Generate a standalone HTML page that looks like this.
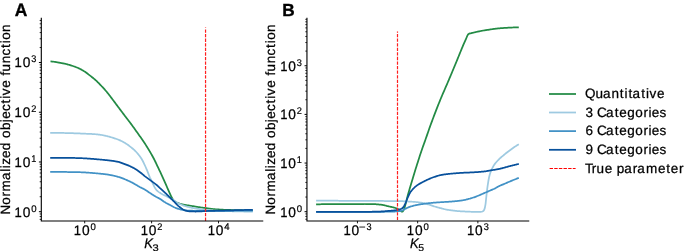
<!DOCTYPE html>
<html><head><meta charset="utf-8"><style>
html,body{margin:0;padding:0;background:#fff;width:685px;height:251px;overflow:hidden;}
svg{display:block;will-change:transform;}
*{-webkit-font-smoothing:antialiased;}
text{font-family:"Liberation Sans",sans-serif;text-rendering:geometricPrecision;}
</style></head><body>
<svg width="685" height="251" viewBox="0 0 685 251"><rect width="685" height="251" fill="#fff"/><polyline points="50.50,61.40 51.18,61.46 51.85,61.52 52.53,61.59 53.21,61.67 53.88,61.75 54.56,61.84 55.24,61.93 55.91,62.04 56.59,62.15 57.27,62.27 57.94,62.40 58.62,62.53 59.30,62.66 59.97,62.79 60.65,62.92 61.33,63.05 62.00,63.17 62.68,63.30 63.36,63.43 64.03,63.57 64.71,63.71 65.38,63.86 66.06,64.01 66.74,64.18 67.41,64.36 68.09,64.54 68.77,64.73 69.44,64.93 70.12,65.14 70.80,65.35 71.47,65.56 72.15,65.78 72.83,66.00 73.50,66.23 74.18,66.46 74.86,66.70 75.53,66.95 76.21,67.21 76.89,67.47 77.56,67.76 78.24,68.05 78.92,68.36 79.59,68.69 80.27,69.03 80.95,69.39 81.62,69.76 82.30,70.14 82.98,70.54 83.65,70.95 84.33,71.37 85.01,71.82 85.68,72.29 86.36,72.78 87.04,73.29 87.71,73.80 88.39,74.33 89.07,74.85 89.74,75.38 90.42,75.90 91.10,76.42 91.77,76.95 92.45,77.49 93.13,78.03 93.80,78.58 94.48,79.15 95.15,79.73 95.83,80.33 96.51,80.95 97.18,81.59 97.86,82.26 98.54,82.94 99.21,83.63 99.89,84.34 100.57,85.04 101.24,85.76 101.92,86.48 102.60,87.20 103.27,87.94 103.95,88.68 104.63,89.44 105.30,90.21 105.98,90.99 106.66,91.79 107.33,92.60 108.01,93.45 108.69,94.31 109.36,95.19 110.04,96.08 110.72,96.99 111.39,97.89 112.07,98.80 112.75,99.70 113.42,100.59 114.10,101.49 114.78,102.39 115.45,103.29 116.13,104.20 116.81,105.10 117.48,106.01 118.16,106.91 118.84,107.81 119.51,108.72 120.19,109.62 120.87,110.53 121.54,111.43 122.22,112.34 122.89,113.24 123.57,114.14 124.25,115.04 124.92,115.93 125.60,116.82 126.28,117.70 126.95,118.57 127.63,119.44 128.31,120.32 128.98,121.20 129.66,122.08 130.34,122.98 131.01,123.89 131.69,124.81 132.37,125.74 133.04,126.67 133.72,127.61 134.40,128.56 135.07,129.50 135.75,130.45 136.43,131.40 137.10,132.34 137.78,133.29 138.46,134.23 139.13,135.18 139.81,136.14 140.49,137.11 141.16,138.08 141.84,139.06 142.52,140.06 143.19,141.06 143.87,142.06 144.55,143.07 145.22,144.09 145.90,145.13 146.58,146.18 147.25,147.25 147.93,148.35 148.61,149.46 149.28,150.58 149.96,151.73 150.64,152.89 151.31,154.07 151.99,155.27 152.66,156.50 153.34,157.75 154.02,159.03 154.69,160.36 155.37,161.74 156.05,163.16 156.72,164.59 157.40,166.03 158.08,167.46 158.75,168.88 159.43,170.31 160.11,171.74 160.78,173.18 161.46,174.63 162.14,176.10 162.81,177.58 163.49,179.09 164.17,180.60 164.84,182.12 165.52,183.64 166.20,185.17 166.87,186.73 167.55,188.30 168.23,189.87 168.90,191.41 169.58,192.91 170.26,194.37 170.93,195.84 171.61,197.26 172.29,198.51 172.96,199.51 173.64,200.34 174.32,200.97 174.99,201.49 175.67,201.92 176.35,202.28 177.02,202.60 177.70,202.89 178.38,203.15 179.05,203.40 179.73,203.62 180.41,203.82 181.08,204.01 181.76,204.19 182.43,204.35 183.11,204.51 183.79,204.66 184.46,204.80 185.14,204.93 185.82,205.05 186.49,205.16 187.17,205.27 187.85,205.37 188.52,205.47 189.20,205.58 189.88,205.68 190.55,205.79 191.23,205.90 191.91,206.01 192.58,206.11 193.26,206.22 193.94,206.33 194.61,206.44 195.29,206.55 195.97,206.66 196.64,206.77 197.32,206.88 198.00,206.99 198.67,207.10 199.35,207.20 200.03,207.30 200.70,207.40 201.38,207.50 202.06,207.60 202.73,207.69 203.41,207.79 204.09,207.88 204.76,207.97 205.44,208.06 206.12,208.15 206.79,208.24 207.47,208.33 208.15,208.42 208.82,208.51 209.50,208.60 210.17,208.69 210.85,208.77 211.53,208.85 212.20,208.93 212.88,209.00 213.56,209.07 214.23,209.13 214.91,209.19 215.59,209.25 216.26,209.30 216.94,209.35 217.62,209.40 218.29,209.44 218.97,209.49 219.65,209.53 220.32,209.57 221.00,209.61 221.68,209.65 222.35,209.68 223.03,209.72 223.71,209.75 224.38,209.78 225.06,209.80 225.74,209.83 226.41,209.85 227.09,209.87 227.77,209.90 228.44,209.92 229.12,209.94 229.80,209.96 230.47,209.98 231.15,210.00 231.83,210.02 232.50,210.03 233.18,210.05 233.86,210.07 234.53,210.08 235.21,210.10 235.89,210.11 236.56,210.13 237.24,210.14 237.92,210.16 238.59,210.17 239.27,210.19 239.94,210.20 240.62,210.21 241.30,210.23 241.97,210.24 242.65,210.25 243.33,210.26 244.00,210.27 244.68,210.29 245.36,210.30 246.03,210.31 246.71,210.32 247.39,210.33 248.06,210.34 248.74,210.35 249.42,210.36 250.09,210.37 250.77,210.38 251.45,210.38 252.12,210.39 252.80,210.40" fill="none" stroke="#238b45" stroke-width="1.75" stroke-linejoin="round" stroke-linecap="butt"/><polyline points="50.20,132.80 50.88,132.80 51.56,132.81 52.23,132.82 52.91,132.82 53.59,132.83 54.27,132.84 54.94,132.84 55.62,132.85 56.30,132.86 56.98,132.87 57.65,132.88 58.33,132.89 59.01,132.90 59.69,132.91 60.36,132.92 61.04,132.93 61.72,132.95 62.40,132.96 63.07,132.97 63.75,132.98 64.43,133.00 65.11,133.01 65.78,133.03 66.46,133.05 67.14,133.06 67.82,133.08 68.49,133.10 69.17,133.12 69.85,133.14 70.53,133.16 71.21,133.18 71.88,133.20 72.56,133.22 73.24,133.24 73.92,133.26 74.59,133.29 75.27,133.31 75.95,133.33 76.63,133.36 77.30,133.38 77.98,133.41 78.66,133.43 79.34,133.46 80.01,133.49 80.69,133.51 81.37,133.54 82.05,133.57 82.72,133.60 83.40,133.63 84.08,133.66 84.76,133.69 85.43,133.72 86.11,133.75 86.79,133.78 87.47,133.81 88.15,133.83 88.82,133.86 89.50,133.89 90.18,133.92 90.86,133.96 91.53,133.99 92.21,134.02 92.89,134.06 93.57,134.10 94.24,134.15 94.92,134.19 95.60,134.25 96.28,134.31 96.95,134.38 97.63,134.45 98.31,134.53 98.99,134.62 99.66,134.71 100.34,134.80 101.02,134.90 101.70,135.01 102.37,135.13 103.05,135.25 103.73,135.39 104.41,135.53 105.08,135.68 105.76,135.83 106.44,135.99 107.12,136.15 107.80,136.32 108.47,136.50 109.15,136.68 109.83,136.87 110.51,137.07 111.18,137.27 111.86,137.48 112.54,137.69 113.22,137.90 113.89,138.11 114.57,138.33 115.25,138.56 115.93,138.79 116.60,139.02 117.28,139.27 117.96,139.52 118.64,139.79 119.31,140.07 119.99,140.37 120.67,140.67 121.35,141.00 122.02,141.33 122.70,141.68 123.38,142.04 124.06,142.42 124.74,142.80 125.41,143.21 126.09,143.64 126.77,144.10 127.45,144.57 128.12,145.07 128.80,145.57 129.48,146.09 130.16,146.61 130.83,147.14 131.51,147.67 132.19,148.22 132.87,148.78 133.54,149.36 134.22,149.97 134.90,150.60 135.58,151.27 136.25,151.98 136.93,152.73 137.61,153.51 138.29,154.33 138.96,155.19 139.64,156.08 140.32,157.01 141.00,158.01 141.67,159.06 142.35,160.21 143.03,161.49 143.71,162.86 144.39,164.29 145.06,165.75 145.74,167.26 146.42,168.82 147.10,170.44 147.77,172.09 148.45,173.84 149.13,175.69 149.81,177.39 150.48,178.76 151.16,179.98 151.84,181.29 152.52,182.78 153.19,184.29 153.87,185.74 154.55,187.08 155.23,188.32 155.90,189.30 156.58,190.10 157.26,190.78 157.94,191.37 158.61,191.90 159.29,192.38 159.97,192.82 160.65,193.26 161.33,193.67 162.00,194.06 162.68,194.43 163.36,194.78 164.04,195.10 164.71,195.41 165.39,195.71 166.07,196.03 166.75,196.38 167.42,196.74 168.10,197.11 168.78,197.48 169.46,197.84 170.13,198.20 170.81,198.55 171.49,198.92 172.17,199.30 172.84,199.72 173.52,200.18 174.20,200.68 174.88,201.18 175.55,201.68 176.23,202.14 176.91,202.55 177.59,202.91 178.26,203.26 178.94,203.59 179.62,203.91 180.30,204.22 180.98,204.52 181.65,204.80 182.33,205.07 183.01,205.32 183.69,205.57 184.36,205.80 185.04,206.01 185.72,206.22 186.40,206.42 187.07,206.61 187.75,206.80 188.43,206.98 189.11,207.15 189.78,207.31 190.46,207.47 191.14,207.63 191.82,207.78 192.49,207.92 193.17,208.06 193.85,208.19 194.53,208.32 195.20,208.44 195.88,208.55 196.56,208.67 197.24,208.78 197.92,208.89 198.59,208.99 199.27,209.09 199.95,209.19 200.63,209.28 201.30,209.37 201.98,209.46 202.66,209.54 203.34,209.62 204.01,209.70 204.69,209.77 205.37,209.84 206.05,209.90 206.72,209.97 207.40,210.03 208.08,210.10 208.76,210.15 209.43,210.21 210.11,210.27 210.79,210.32 211.47,210.37 212.14,210.42 212.82,210.47 213.50,210.51 214.18,210.55 214.85,210.59 215.53,210.63 216.21,210.66 216.89,210.70 217.57,210.73 218.24,210.77 218.92,210.80 219.60,210.83 220.28,210.86 220.95,210.89 221.63,210.92 222.31,210.95 222.99,210.97 223.66,211.00 224.34,211.03 225.02,211.05 225.70,211.07 226.37,211.10 227.05,211.12 227.73,211.14 228.41,211.16 229.08,211.18 229.76,211.19 230.44,211.21 231.12,211.23 231.79,211.24 232.47,211.26 233.15,211.28 233.83,211.29 234.51,211.31 235.18,211.33 235.86,211.34 236.54,211.36 237.22,211.37 237.89,211.39 238.57,211.40 239.25,211.42 239.93,211.43 240.60,211.44 241.28,211.46 241.96,211.47 242.64,211.48 243.31,211.49 243.99,211.51 244.67,211.52 245.35,211.53 246.02,211.54 246.70,211.55 247.38,211.55 248.06,211.56 248.73,211.57 249.41,211.58 250.09,211.58 250.77,211.59 251.44,211.59 252.12,211.60 252.80,211.60" fill="none" stroke="#9ecae1" stroke-width="1.75" stroke-linejoin="round" stroke-linecap="butt"/><polyline points="50.20,171.90 50.88,171.90 51.56,171.90 52.23,171.90 52.91,171.90 53.59,171.90 54.27,171.91 54.94,171.91 55.62,171.91 56.30,171.91 56.98,171.92 57.65,171.92 58.33,171.93 59.01,171.93 59.69,171.93 60.36,171.94 61.04,171.94 61.72,171.95 62.40,171.95 63.07,171.96 63.75,171.97 64.43,171.97 65.11,171.98 65.78,171.99 66.46,171.99 67.14,172.00 67.82,172.01 68.49,172.02 69.17,172.02 69.85,172.03 70.53,172.04 71.21,172.05 71.88,172.06 72.56,172.07 73.24,172.08 73.92,172.08 74.59,172.09 75.27,172.10 75.95,172.12 76.63,172.13 77.30,172.14 77.98,172.16 78.66,172.18 79.34,172.20 80.01,172.23 80.69,172.25 81.37,172.28 82.05,172.31 82.72,172.34 83.40,172.38 84.08,172.41 84.76,172.45 85.43,172.49 86.11,172.53 86.79,172.57 87.47,172.61 88.15,172.66 88.82,172.70 89.50,172.75 90.18,172.80 90.86,172.85 91.53,172.90 92.21,172.96 92.89,173.01 93.57,173.07 94.24,173.13 94.92,173.19 95.60,173.25 96.28,173.31 96.95,173.37 97.63,173.44 98.31,173.50 98.99,173.57 99.66,173.64 100.34,173.70 101.02,173.77 101.70,173.84 102.37,173.92 103.05,173.99 103.73,174.06 104.41,174.13 105.08,174.21 105.76,174.29 106.44,174.38 107.12,174.47 107.80,174.57 108.47,174.68 109.15,174.80 109.83,174.92 110.51,175.05 111.18,175.18 111.86,175.32 112.54,175.47 113.22,175.61 113.89,175.77 114.57,175.93 115.25,176.09 115.93,176.26 116.60,176.43 117.28,176.61 117.96,176.79 118.64,176.98 119.31,177.18 119.99,177.39 120.67,177.62 121.35,177.86 122.02,178.10 122.70,178.36 123.38,178.63 124.06,178.90 124.74,179.19 125.41,179.48 126.09,179.78 126.77,180.08 127.45,180.39 128.12,180.70 128.80,181.01 129.48,181.33 130.16,181.65 130.83,181.97 131.51,182.30 132.19,182.64 132.87,183.00 133.54,183.38 134.22,183.76 134.90,184.15 135.58,184.55 136.25,184.95 136.93,185.35 137.61,185.75 138.29,186.14 138.96,186.53 139.64,186.91 140.32,187.27 141.00,187.62 141.67,187.96 142.35,188.30 143.03,188.64 143.71,188.99 144.39,189.35 145.06,189.74 145.74,190.15 146.42,190.58 147.10,191.03 147.77,191.49 148.45,191.96 149.13,192.42 149.81,192.87 150.48,193.32 151.16,193.76 151.84,194.21 152.52,194.65 153.19,195.09 153.87,195.52 154.55,195.93 155.23,196.33 155.90,196.71 156.58,197.07 157.26,197.42 157.94,197.76 158.61,198.12 159.29,198.49 159.97,198.88 160.65,199.31 161.33,199.77 162.00,200.24 162.68,200.73 163.36,201.21 164.04,201.68 164.71,202.12 165.39,202.53 166.07,202.92 166.75,203.29 167.42,203.65 168.10,204.01 168.78,204.36 169.46,204.71 170.13,205.07 170.81,205.44 171.49,205.82 172.17,206.19 172.84,206.56 173.52,206.91 174.20,207.25 174.88,207.55 175.55,207.82 176.23,208.09 176.91,208.34 177.59,208.58 178.26,208.80 178.94,209.01 179.62,209.20 180.30,209.37 180.98,209.54 181.65,209.70 182.33,209.85 183.01,209.99 183.69,210.11 184.36,210.22 185.04,210.30 185.72,210.38 186.40,210.45 187.07,210.52 187.75,210.58 188.43,210.63 189.11,210.67 189.78,210.69 190.46,210.71 191.14,210.72 191.82,210.73 192.49,210.74 193.17,210.75 193.85,210.76 194.53,210.77 195.20,210.78 195.88,210.78 196.56,210.79 197.24,210.79 197.92,210.80 198.59,210.80 199.27,210.80 199.95,210.80 200.63,210.80 201.30,210.80 201.98,210.80 202.66,210.80 203.34,210.80 204.01,210.80 204.69,210.80 205.37,210.80 206.05,210.80 206.72,210.80 207.40,210.80 208.08,210.80 208.76,210.80 209.43,210.80 210.11,210.80 210.79,210.80 211.47,210.80 212.14,210.80 212.82,210.80 213.50,210.80 214.18,210.80 214.85,210.80 215.53,210.80 216.21,210.80 216.89,210.80 217.57,210.80 218.24,210.80 218.92,210.80 219.60,210.80 220.28,210.80 220.95,210.79 221.63,210.79 222.31,210.79 222.99,210.79 223.66,210.79 224.34,210.79 225.02,210.78 225.70,210.78 226.37,210.78 227.05,210.78 227.73,210.77 228.41,210.77 229.08,210.77 229.76,210.76 230.44,210.76 231.12,210.76 231.79,210.75 232.47,210.75 233.15,210.75 233.83,210.74 234.51,210.74 235.18,210.74 235.86,210.73 236.54,210.73 237.22,210.72 237.89,210.72 238.57,210.71 239.25,210.71 239.93,210.70 240.60,210.70 241.28,210.69 241.96,210.69 242.64,210.68 243.31,210.68 243.99,210.67 244.67,210.67 245.35,210.66 246.02,210.66 246.70,210.65 247.38,210.65 248.06,210.64 248.73,210.64 249.41,210.63 250.09,210.62 250.77,210.62 251.44,210.61 252.12,210.61 252.80,210.60" fill="none" stroke="#4292c6" stroke-width="1.75" stroke-linejoin="round" stroke-linecap="butt"/><polyline points="50.20,157.80 50.88,157.80 51.56,157.80 52.23,157.80 52.91,157.80 53.59,157.80 54.27,157.81 54.94,157.81 55.62,157.81 56.30,157.81 56.98,157.82 57.65,157.82 58.33,157.83 59.01,157.83 59.69,157.83 60.36,157.84 61.04,157.84 61.72,157.85 62.40,157.85 63.07,157.86 63.75,157.87 64.43,157.87 65.11,157.88 65.78,157.89 66.46,157.89 67.14,157.90 67.82,157.91 68.49,157.92 69.17,157.92 69.85,157.93 70.53,157.94 71.21,157.95 71.88,157.96 72.56,157.97 73.24,157.98 73.92,157.98 74.59,157.99 75.27,158.00 75.95,158.02 76.63,158.03 77.30,158.05 77.98,158.06 78.66,158.08 79.34,158.11 80.01,158.13 80.69,158.16 81.37,158.19 82.05,158.22 82.72,158.25 83.40,158.28 84.08,158.32 84.76,158.36 85.43,158.40 86.11,158.44 86.79,158.48 87.47,158.52 88.15,158.57 88.82,158.61 89.50,158.66 90.18,158.71 90.86,158.76 91.53,158.81 92.21,158.87 92.89,158.92 93.57,158.97 94.24,159.03 94.92,159.09 95.60,159.14 96.28,159.20 96.95,159.26 97.63,159.32 98.31,159.38 98.99,159.44 99.66,159.50 100.34,159.57 101.02,159.63 101.70,159.69 102.37,159.75 103.05,159.82 103.73,159.88 104.41,159.94 105.08,160.01 105.76,160.07 106.44,160.14 107.12,160.21 107.80,160.28 108.47,160.35 109.15,160.43 109.83,160.51 110.51,160.59 111.18,160.68 111.86,160.77 112.54,160.86 113.22,160.96 113.89,161.06 114.57,161.17 115.25,161.28 115.93,161.40 116.60,161.53 117.28,161.66 117.96,161.79 118.64,161.95 119.31,162.13 119.99,162.34 120.67,162.57 121.35,162.81 122.02,163.06 122.70,163.32 123.38,163.57 124.06,163.82 124.74,164.07 125.41,164.32 126.09,164.58 126.77,164.84 127.45,165.11 128.12,165.38 128.80,165.67 129.48,165.96 130.16,166.27 130.83,166.59 131.51,166.92 132.19,167.26 132.87,167.61 133.54,167.98 134.22,168.35 134.90,168.74 135.58,169.14 136.25,169.56 136.93,169.99 137.61,170.45 138.29,170.93 138.96,171.43 139.64,171.93 140.32,172.44 141.00,172.98 141.67,173.54 142.35,174.11 143.03,174.68 143.71,175.25 144.39,175.81 145.06,176.35 145.74,176.87 146.42,177.39 147.10,177.90 147.77,178.41 148.45,178.91 149.13,179.41 149.81,179.91 150.48,180.41 151.16,180.92 151.84,181.42 152.52,181.91 153.19,182.40 153.87,182.89 154.55,183.38 155.23,183.89 155.90,184.41 156.58,184.95 157.26,185.52 157.94,186.14 158.61,186.78 159.29,187.44 159.97,188.10 160.65,188.73 161.33,189.35 162.00,189.96 162.68,190.57 163.36,191.19 164.04,191.80 164.71,192.43 165.39,193.07 166.07,193.72 166.75,194.38 167.42,195.05 168.10,195.72 168.78,196.38 169.46,197.04 170.13,197.70 170.81,198.36 171.49,199.02 172.17,199.68 172.84,200.35 173.52,201.02 174.20,201.71 174.88,202.42 175.55,203.15 176.23,203.87 176.91,204.57 177.59,205.23 178.26,205.83 178.94,206.41 179.62,206.96 180.30,207.49 180.98,208.00 181.65,208.47 182.33,208.92 183.01,209.37 183.69,209.79 184.36,210.15 185.04,210.41 185.72,210.61 186.40,210.80 187.07,210.97 187.75,211.12 188.43,211.24 189.11,211.33 189.78,211.39 190.46,211.42 191.14,211.44 191.82,211.46 192.49,211.47 193.17,211.49 193.85,211.49 194.53,211.50 195.20,211.50 195.88,211.50 196.56,211.49 197.24,211.47 197.92,211.46 198.59,211.44 199.27,211.42 199.95,211.40 200.63,211.38 201.30,211.34 201.98,211.29 202.66,211.25 203.34,211.20 204.01,211.15 204.69,211.11 205.37,211.08 206.05,211.06 206.72,211.03 207.40,211.00 208.08,210.98 208.76,210.95 209.43,210.93 210.11,210.91 210.79,210.89 211.47,210.87 212.14,210.84 212.82,210.82 213.50,210.81 214.18,210.79 214.85,210.77 215.53,210.75 216.21,210.73 216.89,210.71 217.57,210.70 218.24,210.68 218.92,210.66 219.60,210.64 220.28,210.63 220.95,210.61 221.63,210.59 222.31,210.57 222.99,210.56 223.66,210.54 224.34,210.52 225.02,210.50 225.70,210.48 226.37,210.46 227.05,210.44 227.73,210.42 228.41,210.41 229.08,210.39 229.76,210.37 230.44,210.35 231.12,210.33 231.79,210.31 232.47,210.29 233.15,210.28 233.83,210.26 234.51,210.24 235.18,210.22 235.86,210.21 236.54,210.19 237.22,210.17 237.89,210.15 238.57,210.14 239.25,210.12 239.93,210.10 240.60,210.09 241.28,210.07 241.96,210.05 242.64,210.04 243.31,210.02 243.99,210.00 244.67,209.99 245.35,209.97 246.02,209.95 246.70,209.94 247.38,209.92 248.06,209.91 248.73,209.89 249.41,209.88 250.09,209.86 250.77,209.85 251.44,209.83 252.12,209.81 252.80,209.80" fill="none" stroke="#08519c" stroke-width="1.75" stroke-linejoin="round" stroke-linecap="butt"/><polyline points="316.10,204.30 316.78,204.29 317.46,204.29 318.13,204.28 318.81,204.27 319.49,204.26 320.17,204.26 320.85,204.25 321.52,204.24 322.20,204.24 322.88,204.23 323.56,204.22 324.24,204.22 324.91,204.21 325.59,204.20 326.27,204.20 326.95,204.19 327.62,204.19 328.30,204.18 328.98,204.17 329.66,204.17 330.34,204.16 331.01,204.16 331.69,204.15 332.37,204.15 333.05,204.14 333.73,204.14 334.40,204.13 335.08,204.13 335.76,204.12 336.44,204.12 337.12,204.12 337.79,204.11 338.47,204.11 339.15,204.10 339.83,204.10 340.51,204.10 341.18,204.09 341.86,204.09 342.54,204.09 343.22,204.08 343.89,204.08 344.57,204.08 345.25,204.07 345.93,204.07 346.61,204.07 347.28,204.06 347.96,204.06 348.64,204.06 349.32,204.06 350.00,204.05 350.67,204.05 351.35,204.05 352.03,204.04 352.71,204.04 353.39,204.04 354.06,204.04 354.74,204.03 355.42,204.03 356.10,204.03 356.78,204.03 357.45,204.02 358.13,204.02 358.81,204.02 359.49,204.02 360.17,204.01 360.84,204.01 361.52,204.01 362.20,204.01 362.88,204.01 363.55,204.01 364.23,204.01 364.91,204.00 365.59,204.00 366.27,204.00 366.94,204.00 367.62,204.00 368.30,204.00 368.98,204.00 369.66,204.00 370.33,204.00 371.01,204.01 371.69,204.02 372.37,204.04 373.05,204.07 373.72,204.10 374.40,204.14 375.08,204.18 375.76,204.23 376.44,204.28 377.11,204.34 377.79,204.39 378.47,204.46 379.15,204.52 379.83,204.59 380.50,204.66 381.18,204.73 381.86,204.81 382.54,204.90 383.21,205.03 383.89,205.17 384.57,205.34 385.25,205.51 385.93,205.69 386.60,205.88 387.28,206.05 387.96,206.21 388.64,206.36 389.32,206.51 389.99,206.65 390.67,206.79 391.35,206.93 392.03,207.07 392.71,207.23 393.38,207.40 394.06,207.58 394.74,207.78 395.42,208.01 396.10,208.27 396.77,208.56 397.45,208.87 398.13,209.22 398.81,209.59 399.48,210.02 400.16,210.54 400.84,211.03 401.52,211.52 402.20,211.57 402.87,211.36 403.55,210.12 404.23,208.59 404.91,206.63 405.59,204.11 406.26,201.45 406.94,198.63 407.62,195.97 408.30,193.52 408.98,191.16 409.65,188.85 410.33,186.55 411.01,184.28 411.69,182.03 412.37,179.78 413.04,177.51 413.72,175.23 414.40,172.98 415.08,170.78 415.76,168.61 416.43,166.47 417.11,164.33 417.79,162.18 418.47,160.03 419.14,157.89 419.82,155.77 420.50,153.70 421.18,151.68 421.86,149.71 422.53,147.79 423.21,145.89 423.89,144.01 424.57,142.12 425.25,140.22 425.92,138.29 426.60,136.34 427.28,134.38 427.96,132.42 428.64,130.46 429.31,128.53 429.99,126.63 430.67,124.76 431.35,122.92 432.03,121.08 432.70,119.26 433.38,117.45 434.06,115.66 434.74,113.87 435.42,112.11 436.09,110.35 436.77,108.61 437.45,106.88 438.13,105.17 438.80,103.48 439.48,101.80 440.16,100.14 440.84,98.50 441.52,96.88 442.19,95.28 442.87,93.70 443.55,92.12 444.23,90.56 444.91,89.00 445.58,87.44 446.26,85.88 446.94,84.31 447.62,82.74 448.30,81.16 448.97,79.56 449.65,77.96 450.33,76.35 451.01,74.74 451.69,73.13 452.36,71.52 453.04,69.90 453.72,68.28 454.40,66.65 455.07,65.02 455.75,63.39 456.43,61.74 457.11,60.08 457.79,58.41 458.46,56.74 459.14,55.06 459.82,53.39 460.50,51.72 461.18,50.07 461.85,48.43 462.53,46.81 463.21,45.21 463.89,43.65 464.57,42.11 465.24,40.60 465.92,39.08 466.60,37.48 467.28,35.92 467.96,34.67 468.63,33.95 469.31,33.66 469.99,33.45 470.67,33.29 471.35,33.14 472.02,32.97 472.70,32.81 473.38,32.64 474.06,32.48 474.73,32.32 475.41,32.16 476.09,32.00 476.77,31.85 477.45,31.70 478.12,31.56 478.80,31.41 479.48,31.27 480.16,31.14 480.84,31.00 481.51,30.87 482.19,30.74 482.87,30.62 483.55,30.51 484.23,30.40 484.90,30.29 485.58,30.19 486.26,30.09 486.94,29.99 487.62,29.89 488.29,29.79 488.97,29.69 489.65,29.58 490.33,29.48 491.01,29.37 491.68,29.26 492.36,29.16 493.04,29.05 493.72,28.96 494.39,28.86 495.07,28.78 495.75,28.70 496.43,28.62 497.11,28.55 497.78,28.48 498.46,28.41 499.14,28.34 499.82,28.28 500.50,28.22 501.17,28.17 501.85,28.12 502.53,28.07 503.21,28.02 503.89,27.98 504.56,27.93 505.24,27.89 505.92,27.85 506.60,27.81 507.28,27.77 507.95,27.74 508.63,27.70 509.31,27.66 509.99,27.63 510.66,27.59 511.34,27.56 512.02,27.53 512.70,27.50 513.38,27.48 514.05,27.45 514.73,27.43 515.41,27.40 516.09,27.38 516.77,27.36 517.44,27.34 518.12,27.32 518.80,27.30" fill="none" stroke="#238b45" stroke-width="1.75" stroke-linejoin="round" stroke-linecap="butt"/><polyline points="316.10,200.70 316.78,200.70 317.46,200.70 318.13,200.70 318.81,200.70 319.49,200.70 320.17,200.70 320.85,200.71 321.52,200.71 322.20,200.71 322.88,200.71 323.56,200.71 324.24,200.71 324.91,200.71 325.59,200.71 326.27,200.71 326.95,200.72 327.62,200.72 328.30,200.72 328.98,200.72 329.66,200.72 330.34,200.72 331.01,200.73 331.69,200.73 332.37,200.73 333.05,200.73 333.73,200.73 334.40,200.73 335.08,200.74 335.76,200.74 336.44,200.74 337.12,200.74 337.79,200.74 338.47,200.75 339.15,200.75 339.83,200.75 340.51,200.75 341.18,200.75 341.86,200.76 342.54,200.76 343.22,200.76 343.89,200.76 344.57,200.77 345.25,200.77 345.93,200.77 346.61,200.77 347.28,200.78 347.96,200.78 348.64,200.78 349.32,200.78 350.00,200.79 350.67,200.79 351.35,200.79 352.03,200.80 352.71,200.80 353.39,200.80 354.06,200.81 354.74,200.81 355.42,200.81 356.10,200.82 356.78,200.82 357.45,200.83 358.13,200.83 358.81,200.83 359.49,200.84 360.17,200.84 360.84,200.84 361.52,200.85 362.20,200.85 362.88,200.86 363.55,200.86 364.23,200.86 364.91,200.87 365.59,200.87 366.27,200.88 366.94,200.88 367.62,200.89 368.30,200.89 368.98,200.89 369.66,200.90 370.33,200.90 371.01,200.91 371.69,200.91 372.37,200.91 373.05,200.92 373.72,200.92 374.40,200.93 375.08,200.93 375.76,200.94 376.44,200.94 377.11,200.95 377.79,200.95 378.47,200.96 379.15,200.96 379.83,200.97 380.50,200.97 381.18,200.98 381.86,200.98 382.54,200.99 383.21,200.99 383.89,201.00 384.57,201.00 385.25,201.01 385.93,201.01 386.60,201.02 387.28,201.02 387.96,201.03 388.64,201.04 389.32,201.04 389.99,201.05 390.67,201.06 391.35,201.06 392.03,201.07 392.71,201.08 393.38,201.08 394.06,201.09 394.74,201.10 395.42,201.10 396.10,201.11 396.77,201.12 397.45,201.13 398.13,201.14 398.81,201.15 399.48,201.16 400.16,201.17 400.84,201.18 401.52,201.19 402.20,201.21 402.87,201.23 403.55,201.26 404.23,201.29 404.91,201.33 405.59,201.36 406.26,201.40 406.94,201.44 407.62,201.48 408.30,201.52 408.98,201.55 409.65,201.59 410.33,201.63 411.01,201.67 411.69,201.71 412.37,201.75 413.04,201.79 413.72,201.84 414.40,201.89 415.08,201.95 415.76,202.00 416.43,202.07 417.11,202.14 417.79,202.23 418.47,202.31 419.14,202.41 419.82,202.51 420.50,202.62 421.18,202.73 421.86,202.85 422.53,202.97 423.21,203.10 423.89,203.24 424.57,203.39 425.25,203.56 425.92,203.73 426.60,203.91 427.28,204.10 427.96,204.29 428.64,204.49 429.31,204.69 429.99,204.89 430.67,205.10 431.35,205.34 432.03,205.58 432.70,205.82 433.38,206.06 434.06,206.30 434.74,206.52 435.42,206.73 436.09,206.93 436.77,207.12 437.45,207.31 438.13,207.50 438.80,207.68 439.48,207.86 440.16,208.04 440.84,208.22 441.52,208.41 442.19,208.59 442.87,208.77 443.55,208.95 444.23,209.12 444.91,209.27 445.58,209.42 446.26,209.55 446.94,209.67 447.62,209.78 448.30,209.89 448.97,210.00 449.65,210.09 450.33,210.19 451.01,210.28 451.69,210.37 452.36,210.46 453.04,210.55 453.72,210.64 454.40,210.72 455.07,210.80 455.75,210.88 456.43,210.95 457.11,211.01 457.79,211.07 458.46,211.12 459.14,211.17 459.82,211.22 460.50,211.27 461.18,211.31 461.85,211.35 462.53,211.39 463.21,211.42 463.89,211.45 464.57,211.49 465.24,211.52 465.92,211.56 466.60,211.59 467.28,211.62 467.96,211.65 468.63,211.68 469.31,211.71 469.99,211.73 470.67,211.75 471.35,211.77 472.02,211.78 472.70,211.79 473.38,211.80 474.06,211.80 474.73,211.80 475.41,211.80 476.09,211.80 476.77,211.80 477.45,211.80 478.12,211.80 478.80,211.80 479.48,211.80 480.16,211.80 480.84,211.80 481.51,211.75 482.19,211.55 482.87,211.28 483.55,210.77 484.23,209.74 484.90,207.64 485.58,203.82 486.26,197.44 486.94,191.02 487.62,185.89 488.29,181.53 488.97,177.78 489.65,175.01 490.33,172.78 491.01,170.96 491.68,169.44 492.36,168.08 493.04,166.80 493.72,165.62 494.39,164.55 495.07,163.62 495.75,162.76 496.43,161.97 497.11,161.22 497.78,160.49 498.46,159.78 499.14,159.10 499.82,158.45 500.50,157.83 501.17,157.24 501.85,156.68 502.53,156.12 503.21,155.56 503.89,154.99 504.56,154.41 505.24,153.83 505.92,153.27 506.60,152.72 507.28,152.19 507.95,151.69 508.63,151.20 509.31,150.72 509.99,150.25 510.66,149.77 511.34,149.28 512.02,148.78 512.70,148.28 513.38,147.79 514.05,147.31 514.73,146.84 515.41,146.39 516.09,145.96 516.77,145.53 517.44,145.11 518.12,144.70 518.80,144.30" fill="none" stroke="#9ecae1" stroke-width="1.75" stroke-linejoin="round" stroke-linecap="butt"/><polyline points="316.10,211.90 316.78,211.90 317.46,211.90 318.13,211.90 318.81,211.90 319.49,211.90 320.17,211.90 320.85,211.90 321.52,211.90 322.20,211.90 322.88,211.90 323.56,211.90 324.24,211.90 324.91,211.90 325.59,211.90 326.27,211.90 326.95,211.90 327.62,211.90 328.30,211.90 328.98,211.90 329.66,211.90 330.34,211.90 331.01,211.90 331.69,211.90 332.37,211.90 333.05,211.90 333.73,211.90 334.40,211.90 335.08,211.90 335.76,211.90 336.44,211.90 337.12,211.90 337.79,211.90 338.47,211.90 339.15,211.90 339.83,211.90 340.51,211.90 341.18,211.90 341.86,211.90 342.54,211.90 343.22,211.90 343.89,211.90 344.57,211.90 345.25,211.90 345.93,211.90 346.61,211.90 347.28,211.90 347.96,211.90 348.64,211.90 349.32,211.89 350.00,211.89 350.67,211.89 351.35,211.89 352.03,211.89 352.71,211.89 353.39,211.89 354.06,211.89 354.74,211.89 355.42,211.89 356.10,211.88 356.78,211.88 357.45,211.88 358.13,211.88 358.81,211.88 359.49,211.88 360.17,211.87 360.84,211.87 361.52,211.87 362.20,211.87 362.88,211.87 363.55,211.87 364.23,211.86 364.91,211.86 365.59,211.86 366.27,211.86 366.94,211.85 367.62,211.85 368.30,211.85 368.98,211.85 369.66,211.85 370.33,211.84 371.01,211.84 371.69,211.84 372.37,211.83 373.05,211.83 373.72,211.83 374.40,211.83 375.08,211.82 375.76,211.82 376.44,211.82 377.11,211.81 377.79,211.81 378.47,211.81 379.15,211.80 379.83,211.80 380.50,211.80 381.18,211.79 381.86,211.79 382.54,211.78 383.21,211.78 383.89,211.77 384.57,211.76 385.25,211.75 385.93,211.74 386.60,211.73 387.28,211.72 387.96,211.70 388.64,211.69 389.32,211.67 389.99,211.66 390.67,211.64 391.35,211.62 392.03,211.60 392.71,211.58 393.38,211.56 394.06,211.53 394.74,211.51 395.42,211.48 396.10,211.44 396.77,211.39 397.45,211.32 398.13,211.24 398.81,211.15 399.48,211.05 400.16,210.93 400.84,210.80 401.52,210.66 402.20,210.48 402.87,210.19 403.55,209.82 404.23,209.42 404.91,209.05 405.59,208.71 406.26,208.36 406.94,208.02 407.62,207.70 408.30,207.40 408.98,207.14 409.65,206.89 410.33,206.66 411.01,206.44 411.69,206.23 412.37,206.04 413.04,205.85 413.72,205.67 414.40,205.50 415.08,205.34 415.76,205.19 416.43,205.05 417.11,204.91 417.79,204.79 418.47,204.66 419.14,204.55 419.82,204.44 420.50,204.33 421.18,204.23 421.86,204.12 422.53,204.02 423.21,203.93 423.89,203.83 424.57,203.73 425.25,203.64 425.92,203.55 426.60,203.46 427.28,203.38 427.96,203.30 428.64,203.22 429.31,203.14 429.99,203.07 430.67,203.00 431.35,202.93 432.03,202.86 432.70,202.80 433.38,202.74 434.06,202.68 434.74,202.62 435.42,202.57 436.09,202.52 436.77,202.47 437.45,202.43 438.13,202.38 438.80,202.34 439.48,202.30 440.16,202.25 440.84,202.21 441.52,202.17 442.19,202.12 442.87,202.08 443.55,202.04 444.23,202.00 444.91,201.96 445.58,201.92 446.26,201.88 446.94,201.84 447.62,201.80 448.30,201.76 448.97,201.71 449.65,201.67 450.33,201.62 451.01,201.57 451.69,201.52 452.36,201.46 453.04,201.41 453.72,201.35 454.40,201.29 455.07,201.23 455.75,201.16 456.43,201.10 457.11,201.03 457.79,200.95 458.46,200.88 459.14,200.80 459.82,200.72 460.50,200.63 461.18,200.54 461.85,200.44 462.53,200.34 463.21,200.23 463.89,200.10 464.57,199.96 465.24,199.80 465.92,199.64 466.60,199.46 467.28,199.29 467.96,199.11 468.63,198.93 469.31,198.75 469.99,198.57 470.67,198.37 471.35,198.17 472.02,197.97 472.70,197.76 473.38,197.54 474.06,197.31 474.73,197.08 475.41,196.83 476.09,196.57 476.77,196.30 477.45,196.03 478.12,195.76 478.80,195.48 479.48,195.20 480.16,194.91 480.84,194.62 481.51,194.32 482.19,194.02 482.87,193.71 483.55,193.41 484.23,193.11 484.90,192.81 485.58,192.52 486.26,192.22 486.94,191.93 487.62,191.64 488.29,191.34 488.97,191.05 489.65,190.75 490.33,190.46 491.01,190.17 491.68,189.88 492.36,189.60 493.04,189.31 493.72,189.01 494.39,188.69 495.07,188.36 495.75,188.00 496.43,187.61 497.11,187.20 497.78,186.80 498.46,186.42 499.14,186.08 499.82,185.77 500.50,185.46 501.17,185.18 501.85,184.89 502.53,184.62 503.21,184.34 503.89,184.07 504.56,183.79 505.24,183.50 505.92,183.20 506.60,182.91 507.28,182.61 507.95,182.31 508.63,182.01 509.31,181.72 509.99,181.43 510.66,181.14 511.34,180.86 512.02,180.58 512.70,180.30 513.38,180.02 514.05,179.75 514.73,179.48 515.41,179.21 516.09,178.94 516.77,178.68 517.44,178.42 518.12,178.16 518.80,177.90" fill="none" stroke="#4292c6" stroke-width="1.75" stroke-linejoin="round" stroke-linecap="butt"/><polyline points="316.10,211.90 316.78,211.90 317.46,211.90 318.13,211.90 318.81,211.90 319.49,211.90 320.17,211.90 320.85,211.90 321.52,211.90 322.20,211.90 322.88,211.90 323.56,211.90 324.24,211.90 324.91,211.90 325.59,211.90 326.27,211.90 326.95,211.90 327.62,211.90 328.30,211.90 328.98,211.90 329.66,211.90 330.34,211.90 331.01,211.90 331.69,211.90 332.37,211.90 333.05,211.90 333.73,211.90 334.40,211.90 335.08,211.90 335.76,211.90 336.44,211.90 337.12,211.90 337.79,211.90 338.47,211.90 339.15,211.90 339.83,211.90 340.51,211.90 341.18,211.90 341.86,211.90 342.54,211.90 343.22,211.90 343.89,211.90 344.57,211.90 345.25,211.90 345.93,211.90 346.61,211.89 347.28,211.89 347.96,211.89 348.64,211.89 349.32,211.89 350.00,211.89 350.67,211.88 351.35,211.88 352.03,211.88 352.71,211.88 353.39,211.87 354.06,211.87 354.74,211.87 355.42,211.87 356.10,211.86 356.78,211.86 357.45,211.86 358.13,211.85 358.81,211.85 359.49,211.84 360.17,211.84 360.84,211.84 361.52,211.83 362.20,211.83 362.88,211.82 363.55,211.82 364.23,211.81 364.91,211.81 365.59,211.80 366.27,211.80 366.94,211.79 367.62,211.78 368.30,211.78 368.98,211.77 369.66,211.77 370.33,211.76 371.01,211.75 371.69,211.75 372.37,211.74 373.05,211.73 373.72,211.72 374.40,211.72 375.08,211.71 375.76,211.70 376.44,211.69 377.11,211.67 377.79,211.65 378.47,211.63 379.15,211.60 379.83,211.56 380.50,211.52 381.18,211.48 381.86,211.44 382.54,211.39 383.21,211.35 383.89,211.30 384.57,211.25 385.25,211.19 385.93,211.14 386.60,211.09 387.28,211.04 387.96,210.99 388.64,210.94 389.32,210.88 389.99,210.83 390.67,210.77 391.35,210.71 392.03,210.64 392.71,210.57 393.38,210.50 394.06,210.42 394.74,210.33 395.42,210.24 396.10,210.13 396.77,210.00 397.45,209.86 398.13,209.71 398.81,209.55 399.48,209.39 400.16,209.21 400.84,209.00 401.52,208.73 402.20,208.34 402.87,207.69 403.55,206.87 404.23,205.78 404.91,204.48 405.59,202.91 406.26,201.24 406.94,199.45 407.62,197.78 408.30,196.26 408.98,194.84 409.65,193.46 410.33,192.30 411.01,191.34 411.69,190.48 412.37,189.70 413.04,188.95 413.72,188.24 414.40,187.56 415.08,186.93 415.76,186.36 416.43,185.83 417.11,185.33 417.79,184.87 418.47,184.43 419.14,184.01 419.82,183.62 420.50,183.24 421.18,182.89 421.86,182.54 422.53,182.19 423.21,181.83 423.89,181.49 424.57,181.14 425.25,180.80 425.92,180.47 426.60,180.14 427.28,179.82 427.96,179.50 428.64,179.18 429.31,178.87 429.99,178.58 430.67,178.29 431.35,178.02 432.03,177.76 432.70,177.51 433.38,177.27 434.06,177.03 434.74,176.81 435.42,176.59 436.09,176.37 436.77,176.16 437.45,175.94 438.13,175.73 438.80,175.53 439.48,175.34 440.16,175.18 440.84,175.03 441.52,174.91 442.19,174.79 442.87,174.68 443.55,174.57 444.23,174.47 444.91,174.38 445.58,174.29 446.26,174.20 446.94,174.12 447.62,174.04 448.30,173.96 448.97,173.89 449.65,173.82 450.33,173.75 451.01,173.68 451.69,173.62 452.36,173.56 453.04,173.50 453.72,173.44 454.40,173.38 455.07,173.32 455.75,173.27 456.43,173.22 457.11,173.17 457.79,173.12 458.46,173.07 459.14,173.02 459.82,172.98 460.50,172.94 461.18,172.89 461.85,172.85 462.53,172.82 463.21,172.78 463.89,172.74 464.57,172.71 465.24,172.68 465.92,172.65 466.60,172.62 467.28,172.59 467.96,172.57 468.63,172.54 469.31,172.51 469.99,172.49 470.67,172.46 471.35,172.43 472.02,172.39 472.70,172.36 473.38,172.32 474.06,172.28 474.73,172.24 475.41,172.20 476.09,172.16 476.77,172.11 477.45,172.06 478.12,172.01 478.80,171.96 479.48,171.91 480.16,171.85 480.84,171.79 481.51,171.73 482.19,171.67 482.87,171.60 483.55,171.53 484.23,171.45 484.90,171.38 485.58,171.28 486.26,171.18 486.94,171.06 487.62,170.94 488.29,170.81 488.97,170.68 489.65,170.56 490.33,170.45 491.01,170.33 491.68,170.23 492.36,170.12 493.04,170.01 493.72,169.91 494.39,169.80 495.07,169.69 495.75,169.58 496.43,169.46 497.11,169.34 497.78,169.22 498.46,169.09 499.14,168.95 499.82,168.80 500.50,168.64 501.17,168.47 501.85,168.30 502.53,168.11 503.21,167.93 503.89,167.74 504.56,167.54 505.24,167.35 505.92,167.16 506.60,166.97 507.28,166.79 507.95,166.61 508.63,166.44 509.31,166.26 509.99,166.09 510.66,165.92 511.34,165.75 512.02,165.58 512.70,165.41 513.38,165.24 514.05,165.07 514.73,164.90 515.41,164.73 516.09,164.56 516.77,164.40 517.44,164.23 518.12,164.06 518.80,163.90" fill="none" stroke="#08519c" stroke-width="1.75" stroke-linejoin="round" stroke-linecap="butt"/><line x1="205.55" y1="27.50" x2="205.55" y2="220.95" stroke="#ff1f1f" stroke-width="1.2" stroke-dasharray="3.3 1.29" stroke-dashoffset="2.69"/><line x1="397.5" y1="31.40" x2="397.5" y2="220.95" stroke="#ff1f1f" stroke-width="1.2" stroke-dasharray="3.3 1.27" stroke-dashoffset="1.97"/><path d="M41.30,18.20 V220.95 H262.70" fill="none" stroke="#000" stroke-width="1.12" stroke-linecap="square"/><path d="M306.95,18.20 V220.95 H528.70" fill="none" stroke="#000" stroke-width="1.12" stroke-linecap="square"/><line x1="39.70" y1="219.40" x2="41.30" y2="219.40" stroke="#000" stroke-width="0.85"/><line x1="39.70" y1="216.52" x2="41.30" y2="216.52" stroke="#000" stroke-width="0.85"/><line x1="39.70" y1="213.98" x2="41.30" y2="213.98" stroke="#000" stroke-width="0.85"/><line x1="38.90" y1="211.70" x2="41.30" y2="211.70" stroke="#000" stroke-width="1.0"/><line x1="39.70" y1="196.73" x2="41.30" y2="196.73" stroke="#000" stroke-width="0.85"/><line x1="39.70" y1="187.97" x2="41.30" y2="187.97" stroke="#000" stroke-width="0.85"/><line x1="39.70" y1="181.76" x2="41.30" y2="181.76" stroke="#000" stroke-width="0.85"/><line x1="39.70" y1="176.94" x2="41.30" y2="176.94" stroke="#000" stroke-width="0.85"/><line x1="39.70" y1="173.00" x2="41.30" y2="173.00" stroke="#000" stroke-width="0.85"/><line x1="39.70" y1="169.67" x2="41.30" y2="169.67" stroke="#000" stroke-width="0.85"/><line x1="39.70" y1="166.79" x2="41.30" y2="166.79" stroke="#000" stroke-width="0.85"/><line x1="39.70" y1="164.25" x2="41.30" y2="164.25" stroke="#000" stroke-width="0.85"/><line x1="38.90" y1="161.97" x2="41.30" y2="161.97" stroke="#000" stroke-width="1.0"/><line x1="39.70" y1="147.00" x2="41.30" y2="147.00" stroke="#000" stroke-width="0.85"/><line x1="39.70" y1="138.24" x2="41.30" y2="138.24" stroke="#000" stroke-width="0.85"/><line x1="39.70" y1="132.03" x2="41.30" y2="132.03" stroke="#000" stroke-width="0.85"/><line x1="39.70" y1="127.21" x2="41.30" y2="127.21" stroke="#000" stroke-width="0.85"/><line x1="39.70" y1="123.27" x2="41.30" y2="123.27" stroke="#000" stroke-width="0.85"/><line x1="39.70" y1="119.94" x2="41.30" y2="119.94" stroke="#000" stroke-width="0.85"/><line x1="39.70" y1="117.06" x2="41.30" y2="117.06" stroke="#000" stroke-width="0.85"/><line x1="39.70" y1="114.52" x2="41.30" y2="114.52" stroke="#000" stroke-width="0.85"/><line x1="38.90" y1="112.24" x2="41.30" y2="112.24" stroke="#000" stroke-width="1.0"/><line x1="39.70" y1="97.27" x2="41.30" y2="97.27" stroke="#000" stroke-width="0.85"/><line x1="39.70" y1="88.51" x2="41.30" y2="88.51" stroke="#000" stroke-width="0.85"/><line x1="39.70" y1="82.30" x2="41.30" y2="82.30" stroke="#000" stroke-width="0.85"/><line x1="39.70" y1="77.48" x2="41.30" y2="77.48" stroke="#000" stroke-width="0.85"/><line x1="39.70" y1="73.54" x2="41.30" y2="73.54" stroke="#000" stroke-width="0.85"/><line x1="39.70" y1="70.21" x2="41.30" y2="70.21" stroke="#000" stroke-width="0.85"/><line x1="39.70" y1="67.33" x2="41.30" y2="67.33" stroke="#000" stroke-width="0.85"/><line x1="39.70" y1="64.79" x2="41.30" y2="64.79" stroke="#000" stroke-width="0.85"/><line x1="38.90" y1="62.51" x2="41.30" y2="62.51" stroke="#000" stroke-width="1.0"/><line x1="39.70" y1="47.54" x2="41.30" y2="47.54" stroke="#000" stroke-width="0.85"/><line x1="39.70" y1="38.78" x2="41.30" y2="38.78" stroke="#000" stroke-width="0.85"/><line x1="39.70" y1="32.57" x2="41.30" y2="32.57" stroke="#000" stroke-width="0.85"/><line x1="39.70" y1="27.75" x2="41.30" y2="27.75" stroke="#000" stroke-width="0.85"/><line x1="39.70" y1="23.81" x2="41.30" y2="23.81" stroke="#000" stroke-width="0.85"/><line x1="39.70" y1="20.48" x2="41.30" y2="20.48" stroke="#000" stroke-width="0.85"/><line x1="305.35" y1="219.24" x2="306.95" y2="219.24" stroke="#000" stroke-width="0.85"/><line x1="305.35" y1="216.41" x2="306.95" y2="216.41" stroke="#000" stroke-width="0.85"/><line x1="305.35" y1="213.93" x2="306.95" y2="213.93" stroke="#000" stroke-width="0.85"/><line x1="304.55" y1="211.70" x2="306.95" y2="211.70" stroke="#000" stroke-width="1.0"/><line x1="305.35" y1="197.05" x2="306.95" y2="197.05" stroke="#000" stroke-width="0.85"/><line x1="305.35" y1="188.49" x2="306.95" y2="188.49" stroke="#000" stroke-width="0.85"/><line x1="305.35" y1="182.41" x2="306.95" y2="182.41" stroke="#000" stroke-width="0.85"/><line x1="305.35" y1="177.70" x2="306.95" y2="177.70" stroke="#000" stroke-width="0.85"/><line x1="305.35" y1="173.84" x2="306.95" y2="173.84" stroke="#000" stroke-width="0.85"/><line x1="305.35" y1="170.59" x2="306.95" y2="170.59" stroke="#000" stroke-width="0.85"/><line x1="305.35" y1="167.76" x2="306.95" y2="167.76" stroke="#000" stroke-width="0.85"/><line x1="305.35" y1="165.28" x2="306.95" y2="165.28" stroke="#000" stroke-width="0.85"/><line x1="304.55" y1="163.05" x2="306.95" y2="163.05" stroke="#000" stroke-width="1.0"/><line x1="305.35" y1="148.40" x2="306.95" y2="148.40" stroke="#000" stroke-width="0.85"/><line x1="305.35" y1="139.84" x2="306.95" y2="139.84" stroke="#000" stroke-width="0.85"/><line x1="305.35" y1="133.76" x2="306.95" y2="133.76" stroke="#000" stroke-width="0.85"/><line x1="305.35" y1="129.05" x2="306.95" y2="129.05" stroke="#000" stroke-width="0.85"/><line x1="305.35" y1="125.19" x2="306.95" y2="125.19" stroke="#000" stroke-width="0.85"/><line x1="305.35" y1="121.94" x2="306.95" y2="121.94" stroke="#000" stroke-width="0.85"/><line x1="305.35" y1="119.11" x2="306.95" y2="119.11" stroke="#000" stroke-width="0.85"/><line x1="305.35" y1="116.63" x2="306.95" y2="116.63" stroke="#000" stroke-width="0.85"/><line x1="304.55" y1="114.40" x2="306.95" y2="114.40" stroke="#000" stroke-width="1.0"/><line x1="305.35" y1="99.75" x2="306.95" y2="99.75" stroke="#000" stroke-width="0.85"/><line x1="305.35" y1="91.19" x2="306.95" y2="91.19" stroke="#000" stroke-width="0.85"/><line x1="305.35" y1="85.11" x2="306.95" y2="85.11" stroke="#000" stroke-width="0.85"/><line x1="305.35" y1="80.40" x2="306.95" y2="80.40" stroke="#000" stroke-width="0.85"/><line x1="305.35" y1="76.54" x2="306.95" y2="76.54" stroke="#000" stroke-width="0.85"/><line x1="305.35" y1="73.29" x2="306.95" y2="73.29" stroke="#000" stroke-width="0.85"/><line x1="305.35" y1="70.46" x2="306.95" y2="70.46" stroke="#000" stroke-width="0.85"/><line x1="305.35" y1="67.98" x2="306.95" y2="67.98" stroke="#000" stroke-width="0.85"/><line x1="304.55" y1="65.75" x2="306.95" y2="65.75" stroke="#000" stroke-width="1.0"/><line x1="305.35" y1="51.10" x2="306.95" y2="51.10" stroke="#000" stroke-width="0.85"/><line x1="305.35" y1="42.54" x2="306.95" y2="42.54" stroke="#000" stroke-width="0.85"/><line x1="305.35" y1="36.46" x2="306.95" y2="36.46" stroke="#000" stroke-width="0.85"/><line x1="305.35" y1="31.75" x2="306.95" y2="31.75" stroke="#000" stroke-width="0.85"/><line x1="305.35" y1="27.89" x2="306.95" y2="27.89" stroke="#000" stroke-width="0.85"/><line x1="305.35" y1="24.64" x2="306.95" y2="24.64" stroke="#000" stroke-width="0.85"/><line x1="305.35" y1="21.81" x2="306.95" y2="21.81" stroke="#000" stroke-width="0.85"/><line x1="305.35" y1="19.33" x2="306.95" y2="19.33" stroke="#000" stroke-width="0.85"/><line x1="84.70" y1="220.95" x2="84.70" y2="223.35" stroke="#000" stroke-width="0.9"/><line x1="151.60" y1="220.95" x2="151.60" y2="223.35" stroke="#000" stroke-width="0.9"/><line x1="218.50" y1="220.95" x2="218.50" y2="223.35" stroke="#000" stroke-width="0.9"/><line x1="357.44" y1="220.95" x2="357.44" y2="223.35" stroke="#000" stroke-width="0.9"/><line x1="417.65" y1="220.95" x2="417.65" y2="223.35" stroke="#000" stroke-width="0.9"/><line x1="477.86" y1="220.95" x2="477.86" y2="223.35" stroke="#000" stroke-width="0.9"/><text x="73.84" y="234.65" font-family="Liberation Sans, sans-serif" font-size="13.80" stroke="#000" stroke-width="0.25" textLength="7.27" lengthAdjust="spacingAndGlyphs">1</text><text x="81.96" y="234.65" font-family="Liberation Sans, sans-serif" font-size="13.84" stroke="#000" stroke-width="0.25" textLength="7.65" lengthAdjust="spacingAndGlyphs">0</text><text x="90.43" y="229.70" font-family="Liberation Sans, sans-serif" font-size="9.69" stroke="#000" stroke-width="0.2" textLength="5.35" lengthAdjust="spacingAndGlyphs">0</text><text x="140.74" y="234.65" font-family="Liberation Sans, sans-serif" font-size="13.80" stroke="#000" stroke-width="0.25" textLength="7.27" lengthAdjust="spacingAndGlyphs">1</text><text x="148.86" y="234.65" font-family="Liberation Sans, sans-serif" font-size="13.84" stroke="#000" stroke-width="0.25" textLength="7.65" lengthAdjust="spacingAndGlyphs">0</text><text x="157.32" y="229.70" font-family="Liberation Sans, sans-serif" font-size="9.69" stroke="#000" stroke-width="0.2" textLength="5.14" lengthAdjust="spacingAndGlyphs">2</text><text x="207.64" y="234.65" font-family="Liberation Sans, sans-serif" font-size="13.80" stroke="#000" stroke-width="0.25" textLength="7.27" lengthAdjust="spacingAndGlyphs">1</text><text x="215.76" y="234.65" font-family="Liberation Sans, sans-serif" font-size="13.84" stroke="#000" stroke-width="0.25" textLength="7.65" lengthAdjust="spacingAndGlyphs">0</text><text x="224.26" y="229.70" font-family="Liberation Sans, sans-serif" font-size="9.66" stroke="#000" stroke-width="0.2" textLength="5.31" lengthAdjust="spacingAndGlyphs">4</text><text x="343.39" y="234.65" font-family="Liberation Sans, sans-serif" font-size="13.80" stroke="#000" stroke-width="0.25" textLength="7.27" lengthAdjust="spacingAndGlyphs">1</text><text x="351.51" y="234.65" font-family="Liberation Sans, sans-serif" font-size="13.84" stroke="#000" stroke-width="0.25" textLength="7.65" lengthAdjust="spacingAndGlyphs">0</text><rect x="359.35" y="226.55" width="5.75" height="1.0" fill="#222"/><text x="366.49" y="229.70" font-family="Liberation Sans, sans-serif" font-size="9.69" stroke="#000" stroke-width="0.2" textLength="5.11" lengthAdjust="spacingAndGlyphs">3</text><text x="406.79" y="234.65" font-family="Liberation Sans, sans-serif" font-size="13.80" stroke="#000" stroke-width="0.25" textLength="7.27" lengthAdjust="spacingAndGlyphs">1</text><text x="414.91" y="234.65" font-family="Liberation Sans, sans-serif" font-size="13.84" stroke="#000" stroke-width="0.25" textLength="7.65" lengthAdjust="spacingAndGlyphs">0</text><text x="423.38" y="229.70" font-family="Liberation Sans, sans-serif" font-size="9.69" stroke="#000" stroke-width="0.2" textLength="5.35" lengthAdjust="spacingAndGlyphs">0</text><text x="467.00" y="234.65" font-family="Liberation Sans, sans-serif" font-size="13.80" stroke="#000" stroke-width="0.25" textLength="7.27" lengthAdjust="spacingAndGlyphs">1</text><text x="475.12" y="234.65" font-family="Liberation Sans, sans-serif" font-size="13.84" stroke="#000" stroke-width="0.25" textLength="7.65" lengthAdjust="spacingAndGlyphs">0</text><text x="483.72" y="229.70" font-family="Liberation Sans, sans-serif" font-size="9.69" stroke="#000" stroke-width="0.2" textLength="5.11" lengthAdjust="spacingAndGlyphs">3</text><text x="14.55" y="216.60" font-family="Liberation Sans, sans-serif" font-size="13.80" stroke="#000" stroke-width="0.25" textLength="7.27" lengthAdjust="spacingAndGlyphs">1</text><text x="22.67" y="216.60" font-family="Liberation Sans, sans-serif" font-size="13.84" stroke="#000" stroke-width="0.25" textLength="7.65" lengthAdjust="spacingAndGlyphs">0</text><text x="31.14" y="211.60" font-family="Liberation Sans, sans-serif" font-size="9.69" stroke="#000" stroke-width="0.2" textLength="5.35" lengthAdjust="spacingAndGlyphs">0</text><text x="280.15" y="216.60" font-family="Liberation Sans, sans-serif" font-size="13.80" stroke="#000" stroke-width="0.25" textLength="7.27" lengthAdjust="spacingAndGlyphs">1</text><text x="288.27" y="216.60" font-family="Liberation Sans, sans-serif" font-size="13.84" stroke="#000" stroke-width="0.25" textLength="7.65" lengthAdjust="spacingAndGlyphs">0</text><text x="296.74" y="211.60" font-family="Liberation Sans, sans-serif" font-size="9.69" stroke="#000" stroke-width="0.2" textLength="5.35" lengthAdjust="spacingAndGlyphs">0</text><text x="14.55" y="166.87" font-family="Liberation Sans, sans-serif" font-size="13.80" stroke="#000" stroke-width="0.25" textLength="7.27" lengthAdjust="spacingAndGlyphs">1</text><text x="22.67" y="166.87" font-family="Liberation Sans, sans-serif" font-size="13.84" stroke="#000" stroke-width="0.25" textLength="7.65" lengthAdjust="spacingAndGlyphs">0</text><text x="31.25" y="161.87" font-family="Liberation Sans, sans-serif" font-size="9.66" stroke="#000" stroke-width="0.2" textLength="5.09" lengthAdjust="spacingAndGlyphs">1</text><text x="280.15" y="167.95" font-family="Liberation Sans, sans-serif" font-size="13.80" stroke="#000" stroke-width="0.25" textLength="7.27" lengthAdjust="spacingAndGlyphs">1</text><text x="288.27" y="167.95" font-family="Liberation Sans, sans-serif" font-size="13.84" stroke="#000" stroke-width="0.25" textLength="7.65" lengthAdjust="spacingAndGlyphs">0</text><text x="296.85" y="162.95" font-family="Liberation Sans, sans-serif" font-size="9.66" stroke="#000" stroke-width="0.2" textLength="5.09" lengthAdjust="spacingAndGlyphs">1</text><text x="14.55" y="117.14" font-family="Liberation Sans, sans-serif" font-size="13.80" stroke="#000" stroke-width="0.25" textLength="7.27" lengthAdjust="spacingAndGlyphs">1</text><text x="22.67" y="117.14" font-family="Liberation Sans, sans-serif" font-size="13.84" stroke="#000" stroke-width="0.25" textLength="7.65" lengthAdjust="spacingAndGlyphs">0</text><text x="31.13" y="112.14" font-family="Liberation Sans, sans-serif" font-size="9.69" stroke="#000" stroke-width="0.2" textLength="5.14" lengthAdjust="spacingAndGlyphs">2</text><text x="280.15" y="119.30" font-family="Liberation Sans, sans-serif" font-size="13.80" stroke="#000" stroke-width="0.25" textLength="7.27" lengthAdjust="spacingAndGlyphs">1</text><text x="288.27" y="119.30" font-family="Liberation Sans, sans-serif" font-size="13.84" stroke="#000" stroke-width="0.25" textLength="7.65" lengthAdjust="spacingAndGlyphs">0</text><text x="296.73" y="114.30" font-family="Liberation Sans, sans-serif" font-size="9.69" stroke="#000" stroke-width="0.2" textLength="5.14" lengthAdjust="spacingAndGlyphs">2</text><text x="14.55" y="67.41" font-family="Liberation Sans, sans-serif" font-size="13.80" stroke="#000" stroke-width="0.25" textLength="7.27" lengthAdjust="spacingAndGlyphs">1</text><text x="22.67" y="67.41" font-family="Liberation Sans, sans-serif" font-size="13.84" stroke="#000" stroke-width="0.25" textLength="7.65" lengthAdjust="spacingAndGlyphs">0</text><text x="31.27" y="62.41" font-family="Liberation Sans, sans-serif" font-size="9.69" stroke="#000" stroke-width="0.2" textLength="5.11" lengthAdjust="spacingAndGlyphs">3</text><text x="280.15" y="70.65" font-family="Liberation Sans, sans-serif" font-size="13.80" stroke="#000" stroke-width="0.25" textLength="7.27" lengthAdjust="spacingAndGlyphs">1</text><text x="288.27" y="70.65" font-family="Liberation Sans, sans-serif" font-size="13.84" stroke="#000" stroke-width="0.25" textLength="7.65" lengthAdjust="spacingAndGlyphs">0</text><text x="296.87" y="65.65" font-family="Liberation Sans, sans-serif" font-size="9.69" stroke="#000" stroke-width="0.2" textLength="5.11" lengthAdjust="spacingAndGlyphs">3</text><g transform="translate(9.60,213.20) rotate(-90)"><text x="-1.35 8.42 16.65 21.68 33.14 41.53 45.07 48.36 55.19 63.04 70.89 75.08 83.08 90.98 94.52 102.14 109.74 114.42 118.07 125.39 133.02 137.58 141.80 149.92 157.65 165.26 169.93 173.33 181.28" y="0.00" font-family="Liberation Sans, sans-serif" font-size="13.46" stroke="#000" stroke-width="0.25">Normalized objective function</text></g><g transform="translate(275.10,213.20) rotate(-90)"><text x="-1.35 8.42 16.65 21.68 33.14 41.53 45.07 48.36 55.19 63.04 70.89 75.08 83.08 90.98 94.52 102.14 109.74 114.42 118.07 125.39 133.02 137.58 141.80 149.92 157.65 165.26 169.93 173.33 181.28" y="0.00" font-family="Liberation Sans, sans-serif" font-size="13.46" stroke="#000" stroke-width="0.25">Normalized objective function</text></g><text x="144.21" y="248.00" font-family="Liberation Sans, sans-serif" font-size="13.96" font-style="italic" stroke="#000" stroke-width="0.25" textLength="8.73" lengthAdjust="spacingAndGlyphs">K</text><text x="152.48" y="250.90" font-family="Liberation Sans, sans-serif" font-size="9.46" stroke="#000" stroke-width="0.2" textLength="6.21" lengthAdjust="spacingAndGlyphs">3</text><text x="410.01" y="248.00" font-family="Liberation Sans, sans-serif" font-size="13.96" font-style="italic" stroke="#000" stroke-width="0.25" textLength="8.73" lengthAdjust="spacingAndGlyphs">K</text><text x="418.18" y="251.20" font-family="Liberation Sans, sans-serif" font-size="9.75" stroke="#000" stroke-width="0.2" textLength="5.85" lengthAdjust="spacingAndGlyphs">5</text><text x="14.66" y="15.80" font-family="Liberation Sans, sans-serif" font-size="17.75" font-weight="bold" stroke="#000" stroke-width="0.35" textLength="12.61" lengthAdjust="spacingAndGlyphs">A</text><text x="282.14" y="15.60" font-family="Liberation Sans, sans-serif" font-size="17.45" font-weight="bold" stroke="#000" stroke-width="0.35" textLength="12.43" lengthAdjust="spacingAndGlyphs">B</text><line x1="549.0" y1="94.0" x2="576.0" y2="94.0" stroke="#238b45" stroke-width="1.75"/><text x="584.96 595.50 603.01 611.47 619.83 624.52 628.38 632.47 641.20 645.90 649.56 656.90" y="97.90" font-family="Liberation Sans, sans-serif" font-size="13.50" stroke="#000" stroke-width="0.25">Quantitative</text><line x1="549.0" y1="112.5" x2="576.0" y2="112.5" stroke="#9ecae1" stroke-width="1.75"/><text x="585.51 593.32 596.90 605.97 614.70 619.30 627.17 635.20 643.45 648.39 651.85 659.55" y="116.70" font-family="Liberation Sans, sans-serif" font-size="13.50" stroke="#000" stroke-width="0.25">3 Categories</text><line x1="549.0" y1="131.1" x2="576.0" y2="131.1" stroke="#4292c6" stroke-width="1.75"/><text x="585.50 593.32 596.90 605.97 614.70 619.30 627.17 635.20 643.45 648.39 651.85 659.55" y="135.40" font-family="Liberation Sans, sans-serif" font-size="13.50" stroke="#000" stroke-width="0.25">6 Categories</text><line x1="549.0" y1="149.8" x2="576.0" y2="149.8" stroke="#08519c" stroke-width="1.75"/><text x="585.44 593.32 596.90 605.97 614.70 619.30 627.17 635.20 643.45 648.39 651.85 659.55" y="154.30" font-family="Liberation Sans, sans-serif" font-size="13.50" stroke="#000" stroke-width="0.25">9 Categories</text><line x1="549.6" y1="168.5" x2="575.6" y2="168.5" stroke="#ff0000" stroke-width="1.1" stroke-dasharray="3.4 1.24"/><text x="584.99 591.71 596.62 604.65 612.30 616.72 624.14 632.87 637.21 645.96 657.97 666.22 670.82 679.07" y="173.30" font-family="Liberation Sans, sans-serif" font-size="13.50" stroke="#000" stroke-width="0.25">True parameter</text></svg>
</body></html>
